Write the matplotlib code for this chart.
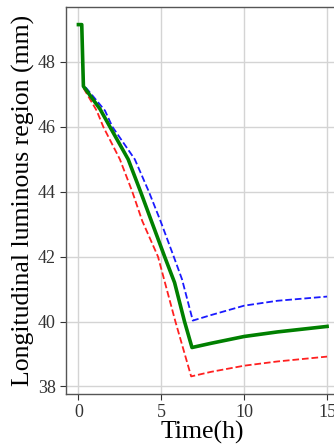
import matplotlib
matplotlib.use("Agg")
import matplotlib.pyplot as plt

# lower bound (red), mean (green), upper bound (blue)
red_t = [0, 0.2, 0.3, 1.1, 1.5, 2.5, 3.25, 3.85, 4.8, 5.85, 6.8, 8, 10, 12, 15]
red_y = [49.15, 49.15, 47.2, 46.5, 46.0, 45.0, 44.0, 43.1, 42.0, 40.0, 38.31, 38.45, 38.64, 38.77, 38.92]

green_t = [0, 0.2, 0.3, 1.3, 1.9, 3.0, 3.75, 4.4, 5.2, 5.8, 6.4, 6.85, 8, 10, 12, 15]
green_y = [49.15, 49.15, 47.25, 46.55, 46.0, 45.0, 44.0, 43.1, 42.0, 41.2, 40.0, 39.2, 39.33, 39.54, 39.68, 39.85]

blue_t = [0, 0.2, 0.3, 1.6, 2.05, 3.4, 4.25, 4.95, 5.75, 6.25, 6.9, 8, 10, 12, 15]
blue_y = [49.15, 49.15, 47.3, 46.5, 46.0, 45.0, 44.0, 43.1, 42.0, 41.3, 40.03, 40.2, 40.49, 40.64, 40.77]

x_ticks = [0, 5, 10, 15]
y_ticks = [38, 40, 42, 44, 46, 48]

plt.rcParams['font.family'] = ['Liberation Serif', 'DejaVu Serif']

fig = plt.figure(figsize=(3.34, 4.47), dpi=100)
ax = fig.add_axes([0.1976, 0.1186, 0.8189, 0.8657])

ax.plot(blue_t, blue_y, color='#1a1aff', linestyle='--', linewidth=1.3)
ax.plot(red_t, red_y, color='#ff2020', linestyle='--', linewidth=1.3)
ax.plot(green_t, green_y, color='green', linestyle='-', linewidth=2.6)

ax.set_xticks(x_ticks)
ax.set_yticks(y_ticks)
ax.grid(True, color='#d4d4d4', linewidth=1.0)
ax.set_axisbelow(True)
ax.tick_params(labelsize=13, colors='#333333', length=4, width=0.8)
for s in ax.spines.values():
    s.set_color('#555555')
    s.set_linewidth(1.0)

ax.set_xlabel('Time(h)', fontsize=18.5, labelpad=0)
ax.set_ylabel('Longitudinal luminous region (mm)', fontsize=18.5, labelpad=2)

fig.savefig('out.png', dpi=100)
